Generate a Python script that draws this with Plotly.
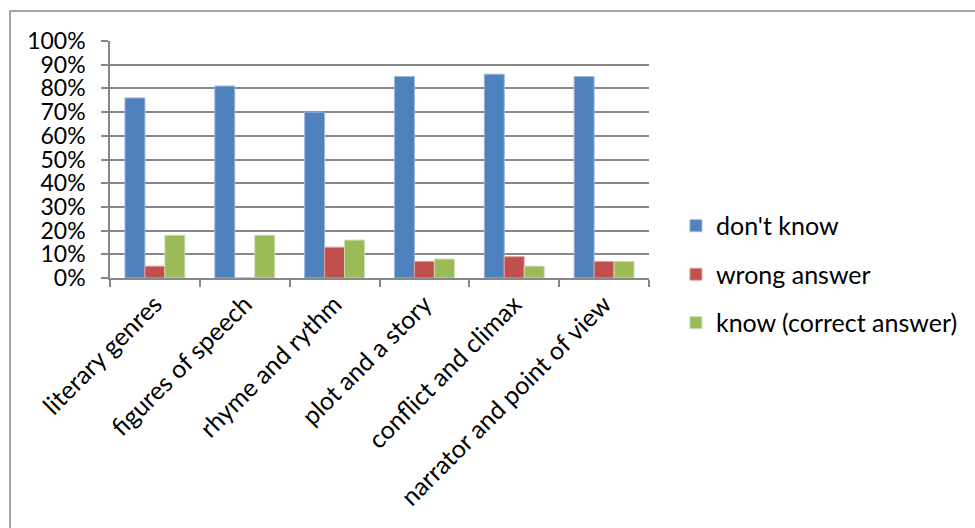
import plotly.graph_objects as go

categories = ["literary genres", "figures of speech", "rhyme and rythm",
              "plot and a story", "conflict and climax", "narrator and point of view"]
dont_know = [76, 81, 70, 85, 86, 85]
wrong_answer = [5, 0, 13, 7, 9, 7]
know_correct = [18, 18, 16, 8, 5, 7]
y_ticks = list(range(0, 101, 10))
y_tick_labels = [f"{v}%" for v in y_ticks]

W, H = 975, 528
ML, MR, MT, MB = 110, 323, 41, 250
FONT = "Lato"
GRID = "#878787"

fig = go.Figure()
series = [
    ("don't know", dont_know, "#4F81BD", "#9DB9DD"),
    ("wrong answer", wrong_answer, "#C0504D", "#DFA3A1"),
    ("know (correct answer)", know_correct, "#9BBB59", "#CCDDAE"),
]
for i, (name, vals, color, edge) in enumerate(series):
    fig.add_trace(go.Bar(
        x=categories, y=vals, name=name, legendgroup=f"g{i}",
        marker=dict(color=color, line=dict(color=edge, width=1)),
    ))

pw = W - ML - MR
ph = H - MT - MB
# outer chart frame
fig.add_shape(type="rect", xref="paper", yref="paper",
              x0=(9.5 - ML) / pw, x1=(W + 10 - ML) / pw,
              y0=-(H + 10 - MT - ph) / ph, y1=(H - MB - 11) / ph,
              line=dict(color="#878787", width=1.5), fillcolor="rgba(0,0,0,0)",
              layer="below")

fig.update_layout(
    width=W, height=H,
    margin=dict(l=ML, r=MR, t=MT, b=MB),
    paper_bgcolor="white", plot_bgcolor="white",
    barmode="group", bargap=1 / 3, bargroupgap=0,
    font=dict(family=FONT, size=24, color="black"),
    showlegend=True,
    legend=dict(x=1.05, y=0.015, xanchor="left", yanchor="middle",
                traceorder="grouped", tracegroupgap=13,
                font=dict(family=FONT, size=25, color="black"),
                bgcolor="rgba(0,0,0,0)"),
    xaxis=dict(showline=True, linecolor=GRID, linewidth=1.5,
               ticks="outside", ticklen=7, tickcolor=GRID, tickwidth=1.5,
               tickson="boundaries", tickangle=-45,
               tickfont=dict(family=FONT, size=25, color="black"),
               showgrid=False),
    yaxis=dict(range=[0, 100], tickvals=y_ticks, ticktext=y_tick_labels,
               showline=True, linecolor=GRID, linewidth=1.5,
               ticks="outside", ticklen=7, tickcolor=GRID, tickwidth=1.5,
               ticklabelstandoff=11,
               showgrid=True, gridcolor=GRID, gridwidth=1.5,
               tickfont=dict(family=FONT, size=23, color="black"),
               zeroline=False),
)

fig.write_html("out.html")
